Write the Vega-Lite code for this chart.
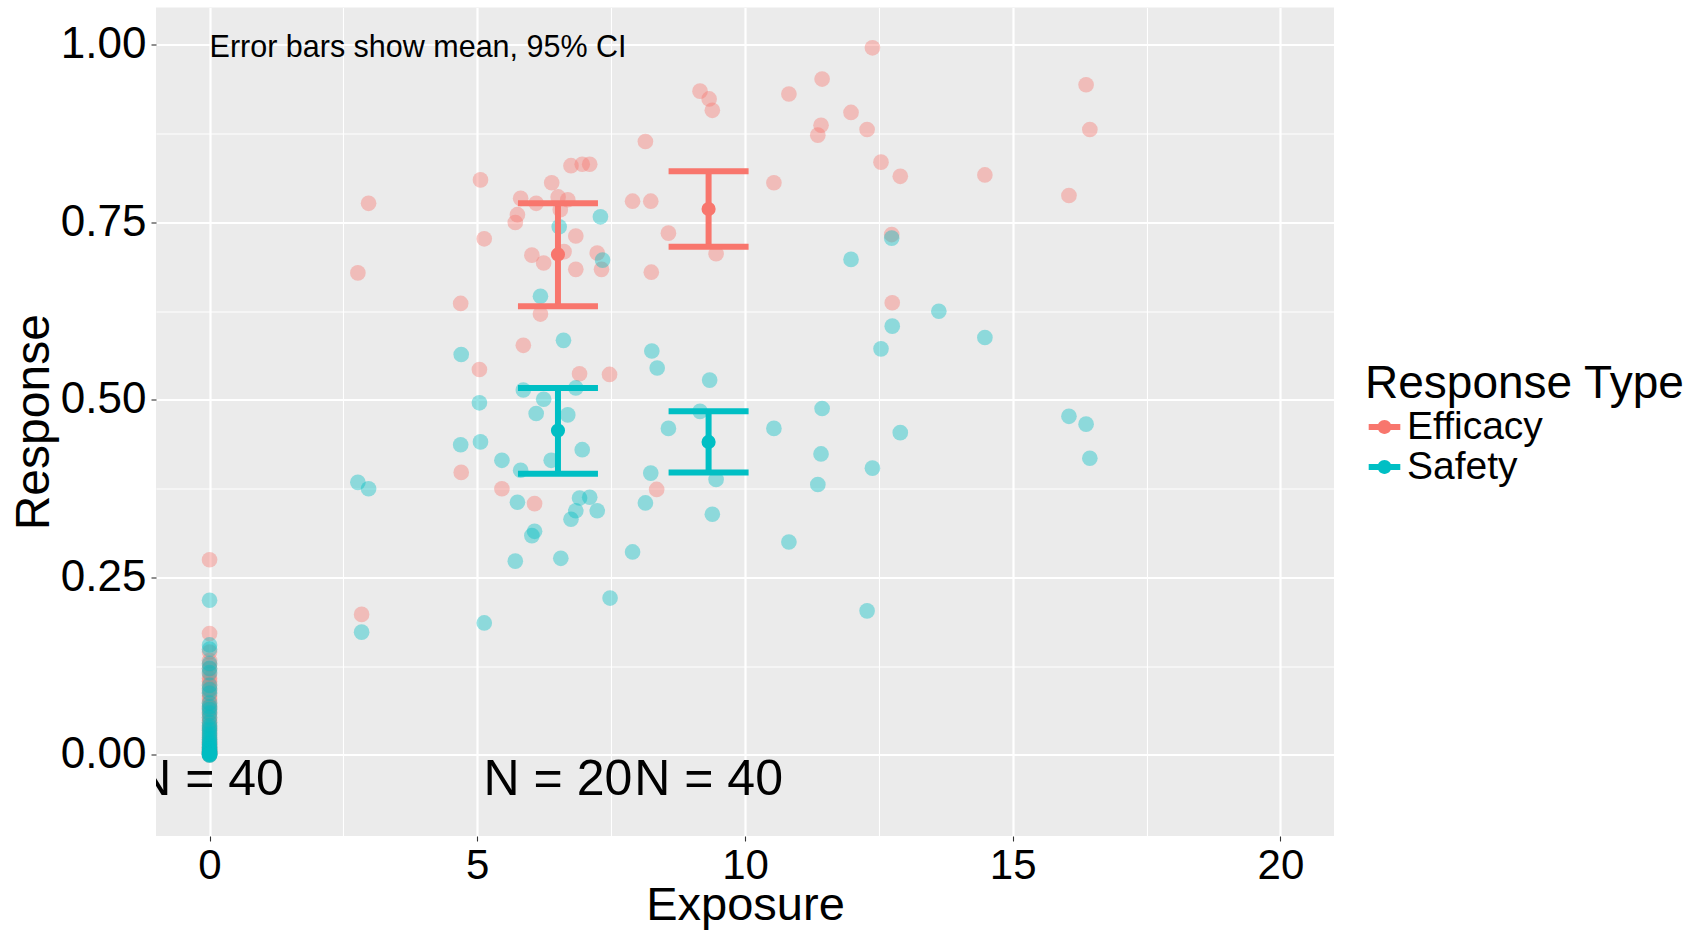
{
  "$schema": "https://vega.github.io/schema/vega-lite/v6.json",
  "width": 1178,
  "height": 828.5,
  "autosize": {"type": "none"},
  "padding": {"left": 156, "top": 7.5, "right": 371, "bottom": 95},
  "background": "white",
  "config": {
    "view": {"fill": "#EBEBEB", "stroke": null},
    "font": "Liberation Sans",
    "text": {"font": "Liberation Sans"}
  },
  "datasets": {
    "points": [
      {"Exposure": 9.16, "Response": 0.935, "Type": "Efficacy"},
      {"Exposure": 9.33, "Response": 0.924, "Type": "Efficacy"},
      {"Exposure": 9.39, "Response": 0.908, "Type": "Efficacy"},
      {"Exposure": 8.14, "Response": 0.864, "Type": "Efficacy"},
      {"Exposure": 6.75, "Response": 0.830, "Type": "Efficacy"},
      {"Exposure": 6.96, "Response": 0.832, "Type": "Efficacy"},
      {"Exposure": 7.10, "Response": 0.832, "Type": "Efficacy"},
      {"Exposure": 5.06, "Response": 0.810, "Type": "Efficacy"},
      {"Exposure": 6.39, "Response": 0.806, "Type": "Efficacy"},
      {"Exposure": 2.97, "Response": 0.777, "Type": "Efficacy"},
      {"Exposure": 5.81, "Response": 0.784, "Type": "Efficacy"},
      {"Exposure": 6.10, "Response": 0.777, "Type": "Efficacy"},
      {"Exposure": 6.51, "Response": 0.786, "Type": "Efficacy"},
      {"Exposure": 6.69, "Response": 0.782, "Type": "Efficacy"},
      {"Exposure": 6.55, "Response": 0.768, "Type": "Efficacy"},
      {"Exposure": 7.90, "Response": 0.780, "Type": "Efficacy"},
      {"Exposure": 8.24, "Response": 0.780, "Type": "Efficacy"},
      {"Exposure": 5.75, "Response": 0.761, "Type": "Efficacy"},
      {"Exposure": 5.71, "Response": 0.750, "Type": "Efficacy"},
      {"Exposure": 5.13, "Response": 0.727, "Type": "Efficacy"},
      {"Exposure": 6.84, "Response": 0.731, "Type": "Efficacy"},
      {"Exposure": 8.57, "Response": 0.735, "Type": "Efficacy"},
      {"Exposure": 6.02, "Response": 0.704, "Type": "Efficacy"},
      {"Exposure": 6.24, "Response": 0.693, "Type": "Efficacy"},
      {"Exposure": 6.62, "Response": 0.709, "Type": "Efficacy"},
      {"Exposure": 7.24, "Response": 0.707, "Type": "Efficacy"},
      {"Exposure": 7.32, "Response": 0.684, "Type": "Efficacy"},
      {"Exposure": 6.84, "Response": 0.684, "Type": "Efficacy"},
      {"Exposure": 8.25, "Response": 0.680, "Type": "Efficacy"},
      {"Exposure": 2.77, "Response": 0.679, "Type": "Efficacy"},
      {"Exposure": 9.46, "Response": 0.706, "Type": "Efficacy"},
      {"Exposure": 4.69, "Response": 0.636, "Type": "Efficacy"},
      {"Exposure": 6.18, "Response": 0.621, "Type": "Efficacy"},
      {"Exposure": 5.86, "Response": 0.577, "Type": "Efficacy"},
      {"Exposure": 5.04, "Response": 0.543, "Type": "Efficacy"},
      {"Exposure": 6.91, "Response": 0.537, "Type": "Efficacy"},
      {"Exposure": 7.47, "Response": 0.536, "Type": "Efficacy"},
      {"Exposure": 4.70, "Response": 0.398, "Type": "Efficacy"},
      {"Exposure": 5.46, "Response": 0.375, "Type": "Efficacy"},
      {"Exposure": 6.07, "Response": 0.354, "Type": "Efficacy"},
      {"Exposure": 8.35, "Response": 0.374, "Type": "Efficacy"},
      {"Exposure": 2.84, "Response": 0.198, "Type": "Efficacy"},
      {"Exposure": 12.38, "Response": 0.996, "Type": "Efficacy"},
      {"Exposure": 11.44, "Response": 0.952, "Type": "Efficacy"},
      {"Exposure": 10.82, "Response": 0.931, "Type": "Efficacy"},
      {"Exposure": 11.98, "Response": 0.905, "Type": "Efficacy"},
      {"Exposure": 16.37, "Response": 0.944, "Type": "Efficacy"},
      {"Exposure": 11.42, "Response": 0.887, "Type": "Efficacy"},
      {"Exposure": 11.36, "Response": 0.873, "Type": "Efficacy"},
      {"Exposure": 12.28, "Response": 0.881, "Type": "Efficacy"},
      {"Exposure": 16.44, "Response": 0.881, "Type": "Efficacy"},
      {"Exposure": 12.54, "Response": 0.835, "Type": "Efficacy"},
      {"Exposure": 12.90, "Response": 0.815, "Type": "Efficacy"},
      {"Exposure": 14.48, "Response": 0.817, "Type": "Efficacy"},
      {"Exposure": 10.54, "Response": 0.806, "Type": "Efficacy"},
      {"Exposure": 16.05, "Response": 0.788, "Type": "Efficacy"},
      {"Exposure": 12.74, "Response": 0.733, "Type": "Efficacy"},
      {"Exposure": 12.75, "Response": 0.637, "Type": "Efficacy"},
      {"Exposure": 0, "Response": 0.275, "Type": "Efficacy"},
      {"Exposure": 0, "Response": 0.171, "Type": "Efficacy"},
      {"Exposure": 0, "Response": 0.145, "Type": "Efficacy"},
      {"Exposure": 0, "Response": 0.133, "Type": "Efficacy"},
      {"Exposure": 0, "Response": 0.127, "Type": "Efficacy"},
      {"Exposure": 0, "Response": 0.121, "Type": "Efficacy"},
      {"Exposure": 0, "Response": 0.114, "Type": "Efficacy"},
      {"Exposure": 0, "Response": 0.108, "Type": "Efficacy"},
      {"Exposure": 0, "Response": 0.104, "Type": "Efficacy"},
      {"Exposure": 0, "Response": 0.099, "Type": "Efficacy"},
      {"Exposure": 0, "Response": 0.094, "Type": "Efficacy"},
      {"Exposure": 0, "Response": 0.088, "Type": "Efficacy"},
      {"Exposure": 0, "Response": 0.083, "Type": "Efficacy"},
      {"Exposure": 0, "Response": 0.079, "Type": "Efficacy"},
      {"Exposure": 0, "Response": 0.074, "Type": "Efficacy"},
      {"Exposure": 0, "Response": 0.069, "Type": "Efficacy"},
      {"Exposure": 0, "Response": 0.066, "Type": "Efficacy"},
      {"Exposure": 0, "Response": 0.061, "Type": "Efficacy"},
      {"Exposure": 0, "Response": 0.057, "Type": "Efficacy"},
      {"Exposure": 0, "Response": 0.052, "Type": "Efficacy"},
      {"Exposure": 0, "Response": 0.049, "Type": "Efficacy"},
      {"Exposure": 0, "Response": 0.045, "Type": "Efficacy"},
      {"Exposure": 0, "Response": 0.041, "Type": "Efficacy"},
      {"Exposure": 0, "Response": 0.037, "Type": "Efficacy"},
      {"Exposure": 0, "Response": 0.034, "Type": "Efficacy"},
      {"Exposure": 0, "Response": 0.031, "Type": "Efficacy"},
      {"Exposure": 0, "Response": 0.027, "Type": "Efficacy"},
      {"Exposure": 0, "Response": 0.024, "Type": "Efficacy"},
      {"Exposure": 0, "Response": 0.021, "Type": "Efficacy"},
      {"Exposure": 0, "Response": 0.018, "Type": "Efficacy"},
      {"Exposure": 0, "Response": 0.016, "Type": "Efficacy"},
      {"Exposure": 0, "Response": 0.013, "Type": "Efficacy"},
      {"Exposure": 0, "Response": 0.011, "Type": "Efficacy"},
      {"Exposure": 0, "Response": 0.009, "Type": "Efficacy"},
      {"Exposure": 0, "Response": 0.007, "Type": "Efficacy"},
      {"Exposure": 0, "Response": 0.005, "Type": "Efficacy"},
      {"Exposure": 0, "Response": 0.004, "Type": "Efficacy"},
      {"Exposure": 0, "Response": 0.002, "Type": "Efficacy"},
      {"Exposure": 0, "Response": 0.001, "Type": "Efficacy"},
      {"Exposure": 0, "Response": 0.000, "Type": "Efficacy"},
      {"Exposure": 7.30, "Response": 0.758, "Type": "Safety"},
      {"Exposure": 6.53, "Response": 0.744, "Type": "Safety"},
      {"Exposure": 7.34, "Response": 0.697, "Type": "Safety"},
      {"Exposure": 6.18, "Response": 0.646, "Type": "Safety"},
      {"Exposure": 6.61, "Response": 0.584, "Type": "Safety"},
      {"Exposure": 4.70, "Response": 0.564, "Type": "Safety"},
      {"Exposure": 8.26, "Response": 0.569, "Type": "Safety"},
      {"Exposure": 8.36, "Response": 0.545, "Type": "Safety"},
      {"Exposure": 9.34, "Response": 0.528, "Type": "Safety"},
      {"Exposure": 5.86, "Response": 0.514, "Type": "Safety"},
      {"Exposure": 6.24, "Response": 0.501, "Type": "Safety"},
      {"Exposure": 6.84, "Response": 0.517, "Type": "Safety"},
      {"Exposure": 5.04, "Response": 0.496, "Type": "Safety"},
      {"Exposure": 6.10, "Response": 0.481, "Type": "Safety"},
      {"Exposure": 6.69, "Response": 0.479, "Type": "Safety"},
      {"Exposure": 9.16, "Response": 0.484, "Type": "Safety"},
      {"Exposure": 8.57, "Response": 0.460, "Type": "Safety"},
      {"Exposure": 4.69, "Response": 0.437, "Type": "Safety"},
      {"Exposure": 5.06, "Response": 0.441, "Type": "Safety"},
      {"Exposure": 5.46, "Response": 0.415, "Type": "Safety"},
      {"Exposure": 6.38, "Response": 0.415, "Type": "Safety"},
      {"Exposure": 5.81, "Response": 0.401, "Type": "Safety"},
      {"Exposure": 6.96, "Response": 0.430, "Type": "Safety"},
      {"Exposure": 8.24, "Response": 0.397, "Type": "Safety"},
      {"Exposure": 9.46, "Response": 0.388, "Type": "Safety"},
      {"Exposure": 2.77, "Response": 0.384, "Type": "Safety"},
      {"Exposure": 2.97, "Response": 0.375, "Type": "Safety"},
      {"Exposure": 5.75, "Response": 0.356, "Type": "Safety"},
      {"Exposure": 6.91, "Response": 0.362, "Type": "Safety"},
      {"Exposure": 7.10, "Response": 0.363, "Type": "Safety"},
      {"Exposure": 6.84, "Response": 0.344, "Type": "Safety"},
      {"Exposure": 7.24, "Response": 0.344, "Type": "Safety"},
      {"Exposure": 6.75, "Response": 0.332, "Type": "Safety"},
      {"Exposure": 8.14, "Response": 0.355, "Type": "Safety"},
      {"Exposure": 9.39, "Response": 0.339, "Type": "Safety"},
      {"Exposure": 6.07, "Response": 0.315, "Type": "Safety"},
      {"Exposure": 6.02, "Response": 0.309, "Type": "Safety"},
      {"Exposure": 5.71, "Response": 0.273, "Type": "Safety"},
      {"Exposure": 6.56, "Response": 0.277, "Type": "Safety"},
      {"Exposure": 7.90, "Response": 0.286, "Type": "Safety"},
      {"Exposure": 7.48, "Response": 0.221, "Type": "Safety"},
      {"Exposure": 5.13, "Response": 0.186, "Type": "Safety"},
      {"Exposure": 2.84, "Response": 0.173, "Type": "Safety"},
      {"Exposure": 12.38, "Response": 0.404, "Type": "Safety"},
      {"Exposure": 10.54, "Response": 0.460, "Type": "Safety"},
      {"Exposure": 11.44, "Response": 0.488, "Type": "Safety"},
      {"Exposure": 12.90, "Response": 0.454, "Type": "Safety"},
      {"Exposure": 16.05, "Response": 0.477, "Type": "Safety"},
      {"Exposure": 16.37, "Response": 0.466, "Type": "Safety"},
      {"Exposure": 16.44, "Response": 0.418, "Type": "Safety"},
      {"Exposure": 11.42, "Response": 0.424, "Type": "Safety"},
      {"Exposure": 11.36, "Response": 0.381, "Type": "Safety"},
      {"Exposure": 10.82, "Response": 0.300, "Type": "Safety"},
      {"Exposure": 12.28, "Response": 0.203, "Type": "Safety"},
      {"Exposure": 11.98, "Response": 0.698, "Type": "Safety"},
      {"Exposure": 13.62, "Response": 0.625, "Type": "Safety"},
      {"Exposure": 12.75, "Response": 0.604, "Type": "Safety"},
      {"Exposure": 14.48, "Response": 0.588, "Type": "Safety"},
      {"Exposure": 12.54, "Response": 0.572, "Type": "Safety"},
      {"Exposure": 12.74, "Response": 0.728, "Type": "Safety"},
      {"Exposure": 0, "Response": 0.218, "Type": "Safety"},
      {"Exposure": 0, "Response": 0.155, "Type": "Safety"},
      {"Exposure": 0, "Response": 0.149, "Type": "Safety"},
      {"Exposure": 0, "Response": 0.129, "Type": "Safety"},
      {"Exposure": 0, "Response": 0.122, "Type": "Safety"},
      {"Exposure": 0, "Response": 0.116, "Type": "Safety"},
      {"Exposure": 0, "Response": 0.098, "Type": "Safety"},
      {"Exposure": 0, "Response": 0.092, "Type": "Safety"},
      {"Exposure": 0, "Response": 0.087, "Type": "Safety"},
      {"Exposure": 0, "Response": 0.073, "Type": "Safety"},
      {"Exposure": 0, "Response": 0.068, "Type": "Safety"},
      {"Exposure": 0, "Response": 0.064, "Type": "Safety"},
      {"Exposure": 0, "Response": 0.059, "Type": "Safety"},
      {"Exposure": 0, "Response": 0.053, "Type": "Safety"},
      {"Exposure": 0, "Response": 0.046, "Type": "Safety"},
      {"Exposure": 0, "Response": 0.041, "Type": "Safety"},
      {"Exposure": 0, "Response": 0.038, "Type": "Safety"},
      {"Exposure": 0, "Response": 0.035, "Type": "Safety"},
      {"Exposure": 0, "Response": 0.031, "Type": "Safety"},
      {"Exposure": 0, "Response": 0.028, "Type": "Safety"},
      {"Exposure": 0, "Response": 0.025, "Type": "Safety"},
      {"Exposure": 0, "Response": 0.022, "Type": "Safety"},
      {"Exposure": 0, "Response": 0.019, "Type": "Safety"},
      {"Exposure": 0, "Response": 0.017, "Type": "Safety"},
      {"Exposure": 0, "Response": 0.015, "Type": "Safety"},
      {"Exposure": 0, "Response": 0.013, "Type": "Safety"},
      {"Exposure": 0, "Response": 0.011, "Type": "Safety"},
      {"Exposure": 0, "Response": 0.009, "Type": "Safety"},
      {"Exposure": 0, "Response": 0.008, "Type": "Safety"},
      {"Exposure": 0, "Response": 0.006, "Type": "Safety"},
      {"Exposure": 0, "Response": 0.005, "Type": "Safety"},
      {"Exposure": 0, "Response": 0.004, "Type": "Safety"},
      {"Exposure": 0, "Response": 0.003, "Type": "Safety"},
      {"Exposure": 0, "Response": 0.002, "Type": "Safety"},
      {"Exposure": 0, "Response": 0.002, "Type": "Safety"},
      {"Exposure": 0, "Response": 0.001, "Type": "Safety"},
      {"Exposure": 0, "Response": 0.001, "Type": "Safety"},
      {"Exposure": 0, "Response": 0.000, "Type": "Safety"},
      {"Exposure": 0, "Response": 0.000, "Type": "Safety"},
      {"Exposure": 0, "Response": 0.000, "Type": "Safety"}
    ],
    "summary": [
      {"Exposure": 6.507, "Type": "Efficacy", "mean": 0.705, "lo": 0.632, "hi": 0.777},
      {"Exposure": 9.32, "Type": "Efficacy", "mean": 0.769, "lo": 0.716, "hi": 0.822},
      {"Exposure": 6.507, "Type": "Safety", "mean": 0.457, "lo": 0.396, "hi": 0.517},
      {"Exposure": 9.32, "Type": "Safety", "mean": 0.441, "lo": 0.398, "hi": 0.484}
    ],
    "counts": [
      {"Exposure": 0, "Response": -0.057, "label": "N = 40"},
      {"Exposure": 6.507, "Response": -0.057, "label": "N = 20"},
      {"Exposure": 9.32, "Response": -0.057, "label": "N = 40"}
    ],
    "notes": [
      {"Exposure": 0, "Response": 0.983, "label": "Error bars show mean, 95% CI"}
    ]
  },
  "resolve": {"axis": {"x": "independent", "y": "independent"}},
  "layer": [
    {
      "data": {"name": "notes"},
      "mark": {"type": "text", "align": "left", "baseline": "alphabetic", "fontSize": 30.5, "color": "black"},
      "encoding": {
        "x": {"field": "Exposure", "type": "quantitative", "scale": {"domain": [-1, 21], "nice": false, "zero": false},
              "axis": {"orient": "top", "values": [2.5, 7.5, 12.5, 17.5], "grid": true, "gridColor": "white", "gridWidth": 1.1, "labels": false, "ticks": false, "domain": false, "title": null}},
        "y": {"field": "Response", "type": "quantitative", "scale": {"domain": [-0.1141, 1.0528], "nice": false, "zero": false},
              "axis": {"orient": "right", "values": [0.125, 0.375, 0.625, 0.875], "grid": true, "gridColor": "white", "gridWidth": 1.1, "labels": false, "ticks": false, "domain": false, "title": null}},
        "text": {"field": "label"}
      }
    },
    {
      "data": {"name": "points"},
      "mark": {"type": "point", "filled": true, "size": 245, "opacity": 0.4, "strokeWidth": 0},
      "encoding": {
        "x": {"field": "Exposure", "type": "quantitative",
              "axis": {"orient": "bottom", "values": [0, 5, 10, 15, 20], "grid": true, "gridColor": "white", "gridWidth": 2.2, "domain": false,
                       "tickColor": "#333333", "tickSize": 5, "tickWidth": 1.1, "labelFontSize": 42, "labelColor": "black", "labelPadding": 4,
                       "title": "Exposure", "titleFontSize": 47, "titleFontWeight": "normal", "titleColor": "black", "titlePadding": -4}},
        "y": {"field": "Response", "type": "quantitative",
              "axis": {"orient": "left", "values": [0, 0.25, 0.5, 0.75, 1], "format": ".2f", "grid": true, "gridColor": "white", "gridWidth": 2.2, "domain": false,
                       "tickColor": "#333333", "tickSize": 5, "tickWidth": 1.1, "labelFontSize": 44, "labelColor": "black", "labelPadding": 5,
                       "title": "Response", "titleFontSize": 48, "titleFontWeight": "normal", "titleColor": "black", "titlePadding": 2}},
        "color": {"field": "Type", "type": "nominal",
                  "scale": {"domain": ["Efficacy", "Safety"], "range": ["#F8766D", "#00BFC4"]},
                  "legend": {"title": "Response Type", "orient": "none", "legendX": 1209, "legendY": 354, "padding": 0,
                             "titleFontSize": 46, "titleFontWeight": "normal", "titleColor": "black", "titlePadding": 0, "titleLimit": 0,
                             "labelFontSize": 39, "labelColor": "black", "labelOffset": 3, "rowPadding": 0, "labelLimit": 0,
                             "symbolType": "M-1,-0.1875H1V0.1875H-1Z M0.4375,0A0.4375,0.4375,0,1,1,-0.4375,0A0.4375,0.4375,0,1,1,0.4375,0Z",
                             "symbolSize": 1000, "symbolOpacity": 1, "symbolStrokeWidth": 0}}
      }
    },
    {
      "data": {"name": "summary"},
      "mark": {"type": "rule", "strokeWidth": 6, "opacity": 1},
      "encoding": {
        "x": {"field": "Exposure", "type": "quantitative", "axis": null},
        "y": {"field": "lo", "type": "quantitative", "axis": null},
        "y2": {"field": "hi"},
        "color": {"field": "Type", "type": "nominal"}
      }
    },
    {
      "data": {"name": "summary"},
      "mark": {"type": "tick", "orient": "horizontal", "size": 80, "thickness": 6, "opacity": 1},
      "encoding": {
        "x": {"field": "Exposure", "type": "quantitative", "axis": null},
        "y": {"field": "hi", "type": "quantitative", "axis": null},
        "color": {"field": "Type", "type": "nominal"}
      }
    },
    {
      "data": {"name": "summary"},
      "mark": {"type": "tick", "orient": "horizontal", "size": 80, "thickness": 6, "opacity": 1},
      "encoding": {
        "x": {"field": "Exposure", "type": "quantitative", "axis": null},
        "y": {"field": "lo", "type": "quantitative", "axis": null},
        "color": {"field": "Type", "type": "nominal"}
      }
    },
    {
      "data": {"name": "summary"},
      "mark": {"type": "point", "filled": true, "size": 200, "opacity": 1, "strokeWidth": 0},
      "encoding": {
        "x": {"field": "Exposure", "type": "quantitative", "axis": null},
        "y": {"field": "mean", "type": "quantitative", "axis": null},
        "color": {"field": "Type", "type": "nominal"}
      }
    },
    {
      "data": {"name": "counts"},
      "mark": {"type": "text", "align": "center", "baseline": "alphabetic", "fontSize": 50, "color": "black", "clip": true},
      "encoding": {
        "x": {"field": "Exposure", "type": "quantitative", "axis": null},
        "y": {"field": "Response", "type": "quantitative", "axis": null},
        "text": {"field": "label"}
      }
    }
  ]
}
